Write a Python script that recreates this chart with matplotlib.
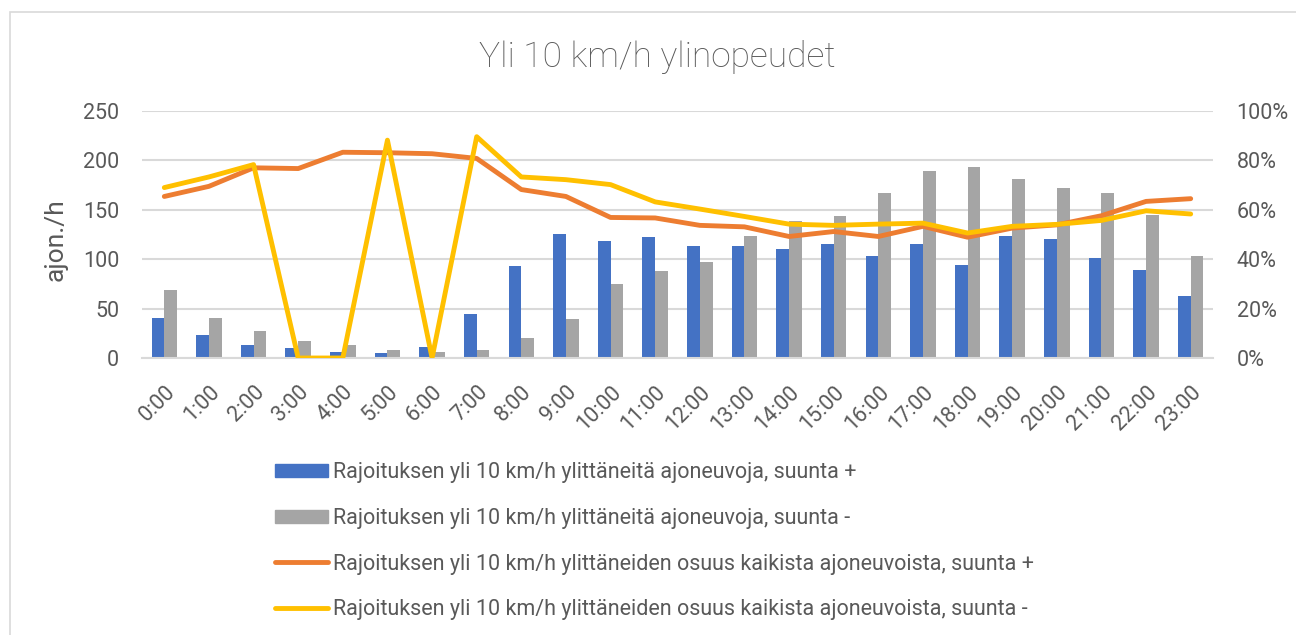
import numpy as np
import matplotlib
matplotlib.use("Agg")
import matplotlib.pyplot as plt
from matplotlib.patches import Rectangle
from matplotlib.lines import Line2D
from matplotlib.ticker import PercentFormatter

plt.rcParams["font.family"] = ["Roboto", "DejaVu Sans"]

# ----------------------------------------------------------------------
# data
hours = ["0:00", "1:00", "2:00", "3:00", "4:00", "5:00", "6:00", "7:00",
         "8:00", "9:00", "10:00", "11:00", "12:00", "13:00", "14:00", "15:00",
         "16:00", "17:00", "18:00", "19:00", "20:00", "21:00", "22:00", "23:00"]

count_plus = [40, 23, 13, 10, 6, 5, 11, 45, 93, 126, 118, 122,
              113, 113, 110, 115, 103, 115, 94, 123, 120, 101, 89, 63]
count_minus = [69, 40, 27, 17, 13, 8, 6, 8, 20, 39, 75, 88,
               97, 123, 139, 144, 167, 189, 193, 181, 172, 167, 145, 103]

share_plus = [0.654, 0.695, 0.770, 0.767, 0.833, 0.831, 0.827, 0.808,
              0.682, 0.654, 0.569, 0.567, 0.537, 0.531, 0.492, 0.512,
              0.492, 0.533, 0.489, 0.526, 0.539, 0.576, 0.634, 0.645]
share_minus = [0.690, 0.733, 0.783, 0.0, 0.0, 0.882, 0.0, 0.896,
               0.733, 0.722, 0.702, 0.632, 0.603, 0.573, 0.542, 0.537,
               0.542, 0.546, 0.506, 0.533, 0.541, 0.557, 0.596, 0.583]

labels = [
    "Rajoituksen yli 10 km/h ylittäneitä ajoneuvoja, suunta +",
    "Rajoituksen yli 10 km/h ylittäneitä ajoneuvoja, suunta -",
    "Rajoituksen yli 10 km/h ylittäneiden osuus kaikista ajoneuvoista, suunta +",
    "Rajoituksen yli 10 km/h ylittäneiden osuus kaikista ajoneuvoista, suunta -",
]

# ----------------------------------------------------------------------
BLUE = "#4472C4"
GRAY = "#A5A5A5"
ORANGE = "#ED7D31"
YELLOW = "#FFC000"
TEXT = "#595959"
GRID = "#D9D9D9"

W, H = 1296, 635
fig = plt.figure(figsize=(W / 100, H / 100), dpi=100)

# outer chart border (cropped on right/bottom)
fig.patches.append(Rectangle((10 / W, -0.1), 1.2, 1 - 12 / H + 0.1,
                             transform=fig.transFigure, fill=False,
                             edgecolor=GRID, linewidth=1.2))

ax = fig.add_axes([142 / W, 1 - 358 / H, (1213 - 142) / W, (358 - 111) / H])
x = np.arange(len(hours))
bw = 0.285
ax.bar(x - bw / 2, count_plus, width=bw, color=BLUE, zorder=2)
ax.bar(x + bw / 2, count_minus, width=bw, color=GRAY, zorder=2)

ax.set_xlim(-0.5, len(hours) - 0.5)
ax.set_ylim(0, 250)
ax.set_yticks([0, 50, 100, 150, 200, 250])
ax.grid(axis="y", color=GRID, linewidth=1.5, zorder=0)
ax.set_axisbelow(True)
for s in ["top", "right", "left"]:
    ax.spines[s].set_visible(False)
ax.spines["bottom"].set_color(GRID)
ax.spines["bottom"].set_linewidth(1.5)
ax.tick_params(length=0, labelsize=15.5, labelcolor=TEXT)
ax.tick_params(axis="y", pad=16.5)
ax.set_xticks(x)
ax.set_xticklabels(hours, rotation=45, ha="right", va="top",
                   rotation_mode="anchor")
ax.tick_params(axis="x", pad=17)
ax.set_ylabel("ajon./h", fontsize=19, color=TEXT)
ax.yaxis.set_label_coords(-0.069, 0.478)

ax2 = ax.twinx()
ax2.plot(x, share_plus, color=ORANGE, linewidth=3.5,
         solid_capstyle="round", solid_joinstyle="round")
ax2.plot(x, share_minus, color=YELLOW, linewidth=3.5,
         solid_capstyle="round", solid_joinstyle="round")
ax2.set_ylim(0, 1)
ax2.set_yticks([0, 0.2, 0.4, 0.6, 0.8, 1.0])
ax2.yaxis.set_major_formatter(PercentFormatter(1.0, decimals=0))
ax2.tick_params(length=0, labelsize=15.5, labelcolor=TEXT, pad=17)
for s in ax2.spines.values():
    s.set_visible(False)

fig.text(657 / W, 1 - 57 / H, "Yli 10 km/h ylinopeudet", ha="center",
         va="center", fontsize=25.5, color=TEXT, fontweight="light")

handles = [
    Rectangle((0, 0), 1, 1, color=BLUE),
    Rectangle((0, 0), 1, 1, color=GRAY),
    Line2D([], [], color=ORANGE, linewidth=3.5, solid_capstyle="round"),
    Line2D([], [], color=YELLOW, linewidth=3.5, solid_capstyle="round"),
]
leg = fig.legend(handles, labels, loc="upper left",
                 bbox_to_anchor=(275 / W, 1 - 462 / H), frameon=False,
                 fontsize=15.5, labelcolor=TEXT, handlelength=2.47,
                 handleheight=0.55, handletextpad=0.23, labelspacing=1.15,
                 borderaxespad=0, borderpad=0)

fig.savefig("out.png", dpi=100)
